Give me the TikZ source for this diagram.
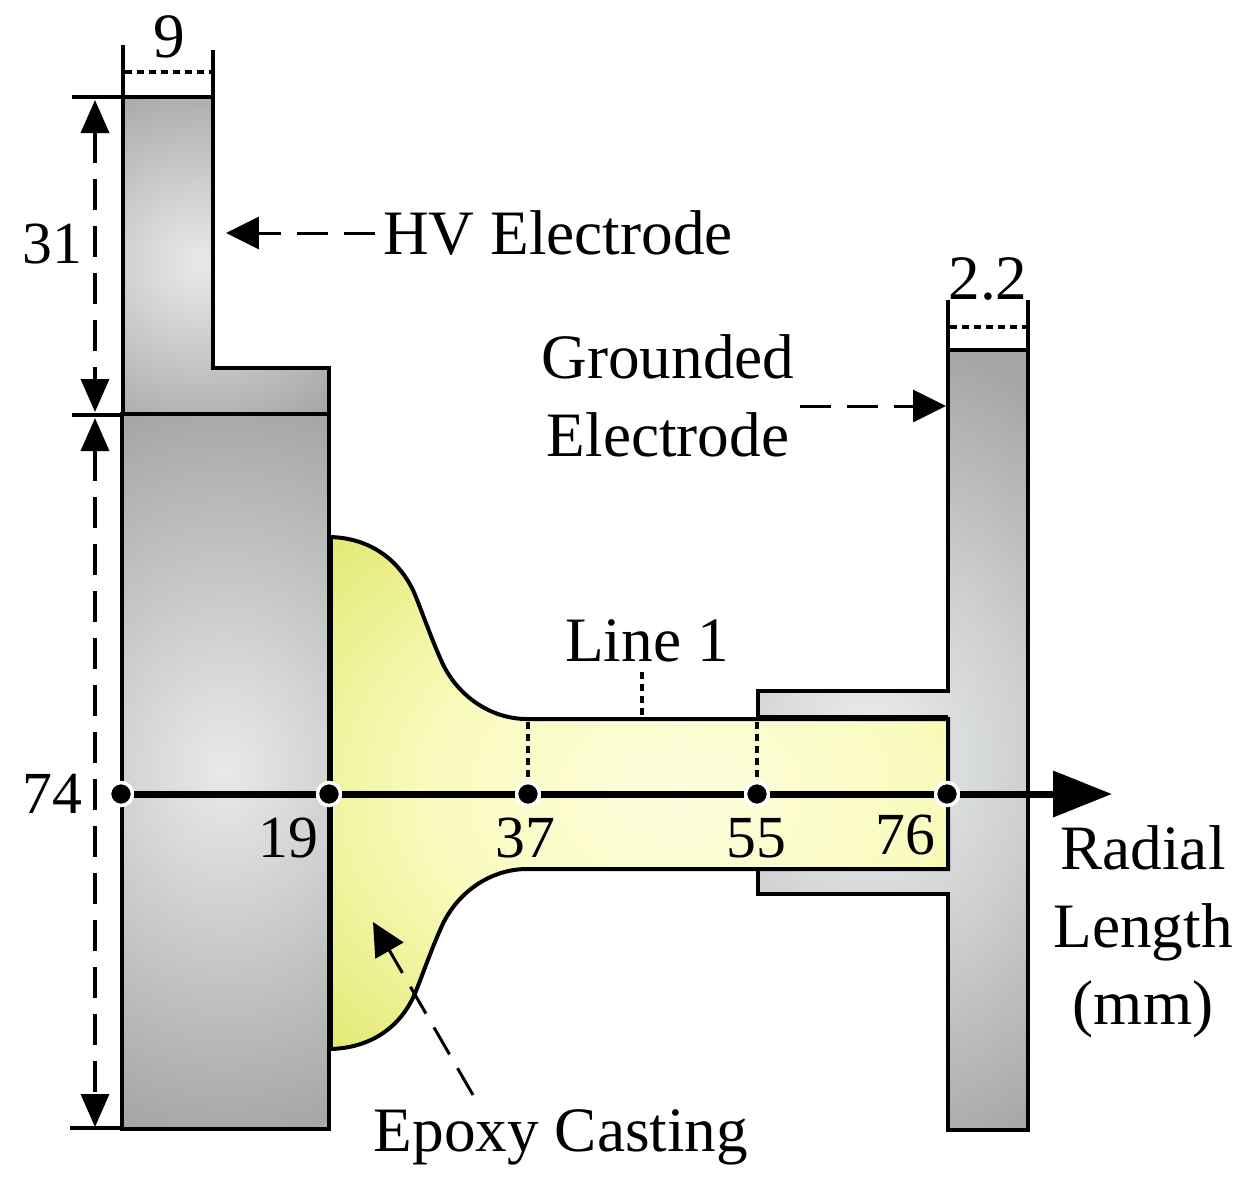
\documentclass[tikz,border=0pt]{standalone}
\usepackage{fontspec}
\setmainfont{Liberation Serif}
\usetikzlibrary{arrows.meta}

\definecolor{metalouter}{HTML}{A6A6A6}
\definecolor{hvcore}{HTML}{EBE8E8}
\definecolor{hvmid}{HTML}{CDCCCC}
\definecolor{gndcore}{HTML}{ECEFF1}
\definecolor{gndmid}{HTML}{CDCFD0}
\definecolor{epoxyouter}{HTML}{E4EA78}
\definecolor{epoxycore}{HTML}{FDFDDE}
\definecolor{epoxymid}{HTML}{FAFBBE}
\pgfdeclareradialshading{hvglow}{\pgfpointorigin}{color(0bp)=(hvcore); color(11bp)=(hvmid); color(25bp)=(metalouter); color(50bp)=(metalouter)}
\pgfdeclareradialshading{gndglow}{\pgfpointorigin}{color(0bp)=(gndcore); color(12bp)=(gndmid); color(25bp)=(metalouter); color(50bp)=(metalouter)}
\pgfdeclareradialshading{epoxyglow}{\pgfpointorigin}{color(0bp)=(epoxycore); color(13bp)=(epoxymid); color(25bp)=(epoxyouter); color(50bp)=(epoxyouter)}

\tikzset{
    every node/.style={font=\fontsize{36}{44}\selectfont, inner sep=0pt},
    num/.style={font=\fontsize{34}{44}\selectfont},
    thin outline/.style={line width=0.8mm},
    dim line/.style={line width=0.7mm, dash pattern=on 0.62cm off 0.32cm, {Triangle[length=6.6mm,width=5.6mm]}-{Triangle[length=6.6mm,width=5.6mm]}},
    leader/.style={line width=0.6mm, dash pattern=on 0.62cm off 0.32cm, -{Triangle[length=6.6mm,width=6.4mm]}},
    ticks/.style={line width=0.7mm},
    dots/.style={line width=0.7mm, dash pattern=on 0.14cm off 0.1cm},
    marker/.style={circle, fill=black, draw=white, line width=0.7mm, minimum size=0.46cm},
}

\def\hvtop{(123,97) -- (213,97) -- (213,368) -- (329,368) -- (329,414) -- (123,414) -- cycle}
\def\hvlow{(122,414) -- (329,414) -- (329,1129) -- (122,1129) -- cycle}
\def\gndbody{(948,350) -- (1028,350) -- (1028,1130) -- (948,1130) -- (948,894) -- (758,894) -- (758,691) -- (948,691) -- cycle}
\def\epoxybody{(330,537) .. controls (372,538) and (402,562) .. (416,597) .. controls (425,620) and (432,640) .. (441,660) .. controls (456,695) and (490,719) .. (527,719) -- (948,719) -- (948,869) -- (527,869) .. controls (490,869) and (456,893) .. (441,928) .. controls (432,948) and (425,968) .. (416,991) .. controls (402,1026) and (372,1048) .. (330,1049) -- cycle}

\begin{document}
\begin{tikzpicture}[x=0.02cm, y=-0.02cm]
    \useasboundingbox (0,0) rectangle (1250,1184);

    % electrodes and casting
    \fill[metalouter] \hvtop;
    \begin{scope}
        \clip \hvtop;
        \shade[shading=hvglow] (200,262) ellipse [x radius=200, y radius=190];
    \end{scope}
    \draw[thin outline] \hvtop;

    \fill[metalouter] \hvlow;
    \begin{scope}
        \clip \hvlow;
        \shade[shading=hvglow] (225,770) ellipse [x radius=300, y radius=370];
    \end{scope}
    \draw[thin outline] \hvlow;

    \fill[metalouter] \gndbody;
    \begin{scope}
        \clip \gndbody;
        \shade[shading=gndglow] (870,760) ellipse [x radius=330, y radius=420];
    \end{scope}
    \draw[thin outline] \gndbody;

    \fill[epoxyouter] \epoxybody;
    \begin{scope}
        \clip \epoxybody;
        \shade[shading=epoxyglow] (680,794) ellipse [x radius=480, y radius=350];
    \end{scope}
    \draw[thin outline] \epoxybody;
    \coordinate (wall top) at (330,537);
    \coordinate (wall bottom) at (330,1049);
    \draw[line width=1.2mm] (wall top) -- (wall bottom);
    \coordinate (lip left) at (758,718);
    \coordinate (lip right) at (948,718);
    \draw[line width=1.1mm] (lip left) -- (lip right);

    % radial axis
    \node[marker] (r0) at (121,794) {};
    \node[marker] (r19) at (329,794) {};
    \node[marker] (r37) at (528,794) {};
    \node[marker] (r55) at (757,794) {};
    \node[marker] (r76) at (947,794) {};
    \coordinate (axis end) at (1112,794);
    \draw[line width=1.4mm] (r0) -- (r19);
    \draw[line width=1.4mm] (r19) -- (r37);
    \draw[line width=1.4mm] (r37) -- (r55);
    \draw[line width=1.4mm] (r55) -- (r76);
    \draw[line width=1.4mm, -{Triangle[length=1.18cm,width=0.9cm]}] (r76) -- (axis end);

    \node[num] (n74) at (52,794) {74};
    \node[num] (n19) at (288,838) {19};
    \node[num] (n37) at (525,838) {37};
    \node[num] (n55) at (756,838) {55};
    \node[num] (n76) at (905,835) {76};
    \node[align=center] (radial) at (1143,932) {Radial\\Length\\(mm)};

    % dotted drops
    \coordinate (foot37) at (528,722);
    \coordinate (foot55) at (757,722);
    \draw[dots] (foot37) -- (r37);
    \draw[dots] (foot55) -- (r55);
    \node (line1) at (647,641) {Line 1};
    \coordinate (line1 top) at (642,672);
    \coordinate (line1 foot) at (642,717);
    \draw[dots] (line1 top) -- (line1 foot);

    % width 9
    \node (w9) at (169,37) {9};
    \coordinate (w9a) at (123,45);
    \coordinate (w9b) at (213,50);
    \coordinate (w9c) at (123,97);
    \coordinate (w9d) at (213,97);
    \coordinate (w9e) at (125,72);
    \coordinate (w9f) at (213,72);
    \draw[ticks] (w9a) -- (w9c);
    \draw[ticks] (w9b) -- (w9d);
    \draw[dots] (w9e) -- (w9f);

    % width 2.2
    \node (w22) at (988,279) {2.2};
    \coordinate (w22a) at (948,300);
    \coordinate (w22b) at (1028,300);
    \coordinate (w22c) at (948,350);
    \coordinate (w22d) at (1028,350);
    \coordinate (w22e) at (950,327);
    \coordinate (w22f) at (1028,327);
    \draw[ticks] (w22a) -- (w22c);
    \draw[ticks] (w22b) -- (w22d);
    \draw[dots] (w22e) -- (w22f);

    % heights
    \node[num] (h31) at (52,244) {31};
    \coordinate (t1a) at (72,97);
    \coordinate (t2a) at (72,415);
    \coordinate (t2b) at (123,415);
    \coordinate (t3a) at (70,1128);
    \coordinate (t3b) at (122,1128);
    \draw[ticks] (t1a) -- (w9c);
    \draw[ticks] (t2a) -- (t2b);
    \draw[ticks] (t3a) -- (t3b);
    \coordinate (d1) at (95,100);
    \coordinate (d2) at (95,412);
    \coordinate (d3) at (95,418);
    \coordinate (d4) at (95,1127);
    \draw[dim line] (d1) -- (d2);
    \draw[dim line] (d3) -- (d4);

    % callouts
    \node (hv) at (558,233) {HV Electrode};
    \coordinate (hv from) at (375,233);
    \coordinate (hv to) at (226,233);
    \draw[leader] (hv from) -- (hv to);
    \node[align=center] (gnd) at (668,396) {Grounded\\Electrode};
    \coordinate (gnd from) at (800,406);
    \coordinate (gnd to) at (946,406);
    \draw[leader] (gnd from) -- (gnd to);
    \node (epoxy) at (561,1137) {Epoxy Casting};
    \coordinate (epoxy from) at (473,1095);
    \coordinate (epoxy to) at (373,922);
    \draw[leader] (epoxy from) -- (epoxy to);
\end{tikzpicture}
\end{document}
